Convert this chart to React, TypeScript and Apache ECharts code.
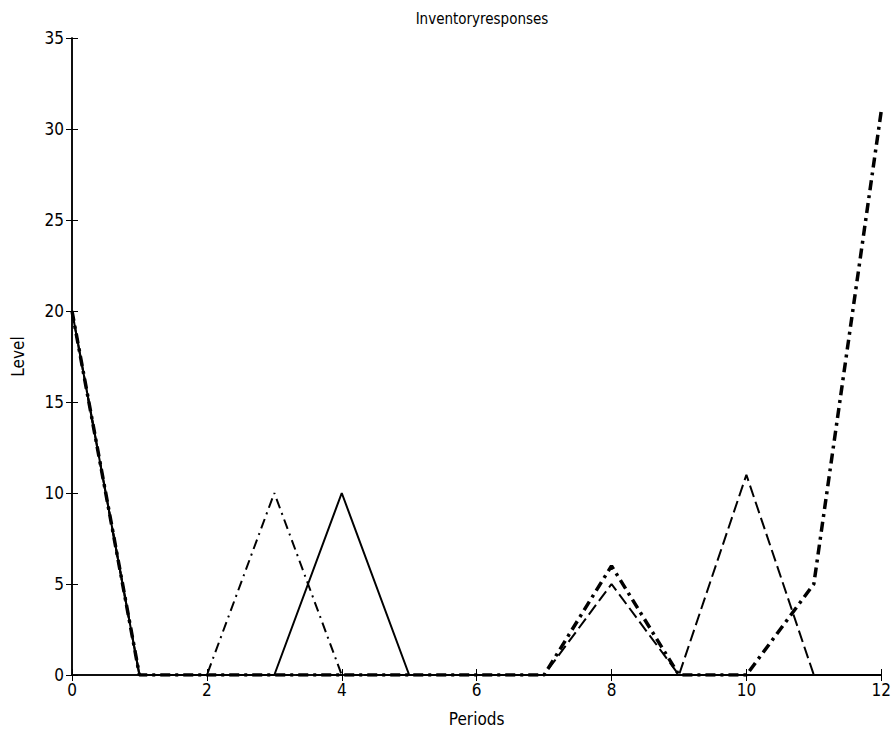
import React, { useEffect, useRef } from "react";
import * as echarts from "echarts";

const periods = [0, 1, 2, 3, 4, 5, 6, 7, 8, 9, 10, 11, 12];
const solidThin = [20, 0, 0, 0, 10, 0, 0, 0, 0, 0, 0, 0, 0];
const dashDotThin = [20, 0, 0, 10, 0, 0, 0, 0, 0, 0, 0, 0, 0];
const dashed = [20, 0, 0, 0, 0, 0, 0, 0, 5, 0, 11, 0, 0];
const dashDotThick = [20, 0, 0, 0, 0, 0, 0, 0, 6, 0, 0, 5, 31];

const FONT = "'Liberation Sans Narrow', 'DejaVu Sans Condensed', 'Liberation Sans', sans-serif";

const pairs = (ys: number[]) => periods.map((x, i) => [x, ys[i]]);

export default function App() {
  const ref = useRef<HTMLDivElement>(null);
  useEffect(() => {
    const chart = echarts.init(ref.current!, undefined, { renderer: "svg" });
    const axisCommon = {
      axisLine: { show: true, lineStyle: { color: "#000", width: 1.5 } },
      axisTick: { show: true, inside: true, length: 6, lineStyle: { color: "#000" } },
      splitLine: { show: false },
    };
    const mk = (name: string, data: number[], type: any, width: number) => ({
      name,
      type: "line",
      data: pairs(data),
      showSymbol: false,
      symbol: "none",
      lineStyle: { color: "#000", width, type },
    });
    chart.setOption({
      animation: false,
      backgroundColor: "#fff",
      title: {
        text: "Inventoryresponses",
        left: 477,
        textAlign: "center",
        top: 6,
        textStyle: { fontFamily: FONT, fontSize: 15, fontWeight: "normal", color: "#000" },
      },
      grid: { left: 72, right: 12, top: 38, bottom: 61 },
      xAxis: [
        {
          type: "value",
          min: 0,
          max: 12,
          interval: 2,
          name: "Periods",
          nameLocation: "middle",
          nameGap: 35,
          nameTextStyle: { fontFamily: FONT, fontSize: 17, color: "#000" },
          axisLabel: { fontFamily: FONT, fontSize: 17, color: "#000", margin: 6 },
          ...axisCommon,
        },
        {
          type: "value",
          position: "top",
          min: 0,
          max: 12,
          interval: 2,
          axisLabel: { show: false },
          ...axisCommon,
        },
      ],
      yAxis: [
        {
          type: "value",
          min: 0,
          max: 35,
          interval: 5,
          name: "Level",
          nameLocation: "middle",
          nameGap: 46,
          nameRotate: 90,
          nameTextStyle: { fontFamily: FONT, fontSize: 17, color: "#000" },
          axisLabel: { fontFamily: FONT, fontSize: 17, color: "#000", margin: 8 },
          ...axisCommon,
        },
        {
          type: "value",
          position: "right",
          min: 0,
          max: 35,
          interval: 5,
          axisLabel: { show: false },
          ...axisCommon,
        },
      ],
      series: [
        mk("A", solidThin, "solid", 2),
        mk("B", dashDotThin, [10, 5, 2, 5], 2),
        mk("C", dashed, [12, 5], 2),
        mk("D", dashDotThick, [10, 5, 3, 5], 3.5),
      ],
    });
    return () => chart.dispose();
  }, []);
  return (
    <div
      ref={ref}
      style={{ position: "absolute", left: 0, top: 0, width: 894, height: 736 }}
    />
  );
}
